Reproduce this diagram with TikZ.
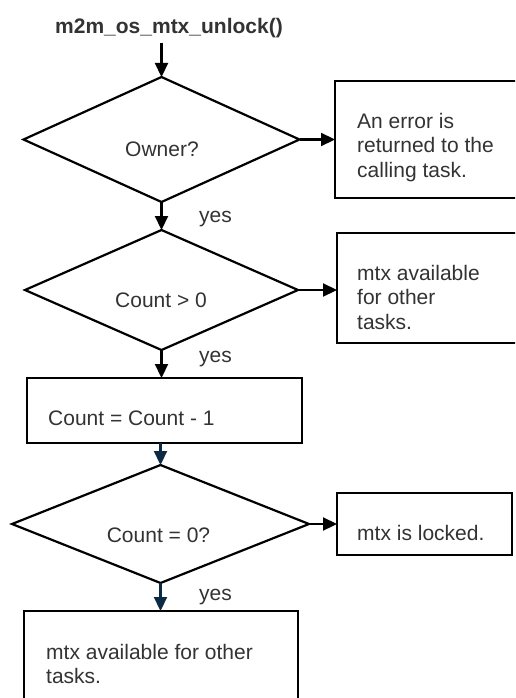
\documentclass[tikz,border=0pt]{standalone}
\usepackage{fontspec}
\setmainfont{Liberation Sans}
\usetikzlibrary{shapes.geometric,arrows.meta}
\definecolor{txt}{HTML}{333333}
\definecolor{navy}{HTML}{0C2A44}
\begin{document}
\begin{tikzpicture}[x=1pt,y=-1pt,
  every node/.style={font=\fontsize{21}{24.5}\selectfont, text=txt},
  decision/.style={diamond, draw=black, line width=2.2pt, inner sep=0pt, outer sep=0pt},
  stepbox/.style={rectangle, draw=black, line width=2.2pt, inner sep=0pt, outer sep=0pt, anchor=north west},
  label/.style={inner sep=0pt},
  flow/.style={line width=2.2pt, draw=black, -{Triangle[length=14pt,width=13pt]}},
  flownavy/.style={line width=2.2pt, draw=navy, -{Triangle[length=14pt,width=13pt]}, navy}
]
\useasboundingbox (0,0) rectangle (515,698);
\fill[white] (0,0) rectangle (515,698);
\clip (0,0) rectangle (515,698);

% title
\node[anchor=base, inner sep=4pt] (title) at (169,34) {\bfseries m2m\_os\_mtx\_unlock()};

% decisions
\node[decision, minimum width=276pt, minimum height=125pt] (d1) at (161.5,139.5) {};
\node[decision, minimum width=273pt, minimum height=120pt] (d2) at (161.5,290) {};
\node[decision, minimum width=297pt, minimum height=118pt] (d3) at (160.5,524) {};

\node[label, anchor=base] (d1t) at (162,156) {Owner?};
\node[label, anchor=base] (d2t) at (161,307) {Count > 0};
\node[label, anchor=base] (d3t) at (158.5,542) {Count = 0?};

% boxes
\node[stepbox, minimum width=195pt, minimum height=117pt] (b1) at (335,81) {};
\node[stepbox, minimum width=193pt, minimum height=110pt] (b2) at (337,233) {};
\node[stepbox, minimum width=275pt, minimum height=65pt] (b3) at (27,378) {};
\node[stepbox, minimum width=175pt, minimum height=62pt] (b4) at (337,493) {};
\node[stepbox, minimum width=274pt, minimum height=110pt] (b5) at (24,611) {};

\node[label, anchor=north west, align=left] (b1t) at (357,113) {An error is\\returned to the\\calling task.};
\node[label, anchor=north west, align=left] (b2t) at (357,265) {mtx available\\for other\\tasks.};
\node[label, anchor=base west] (b3t) at (48,425) {Count = Count - 1};
\node[label, anchor=base west] (b4t) at (357,540) {mtx is locked.};
\node[label, anchor=north west, align=left] (b5t) at (46,644) {mtx available for other\\tasks.};

% yes labels
\node[label, anchor=base west] (y1) at (199,222) {yes};
\node[label, anchor=base west] (y2) at (199,362) {yes};
\node[label, anchor=base west] (y3) at (199,600) {yes};

% connectors
\draw[flow] (title.south -| d1.north) -- (d1.north);
\draw[flow] (d1.east) -- (d1.east -| b1.west);
\draw[flow] (d1.south) -- (d2.north);
\draw[flow] (d2.east) -- (d2.east -| b2.west);
\draw[flow] (d2.south) -- (d2.south |- b3.north);
\draw[flownavy] (d3.north |- b3.south) -- (d3.north);
\draw[flow] (d3.east) -- (d3.east -| b4.west);
\draw[flownavy] (d3.south) -- (d3.south |- b5.north);
\end{tikzpicture}
\end{document}
